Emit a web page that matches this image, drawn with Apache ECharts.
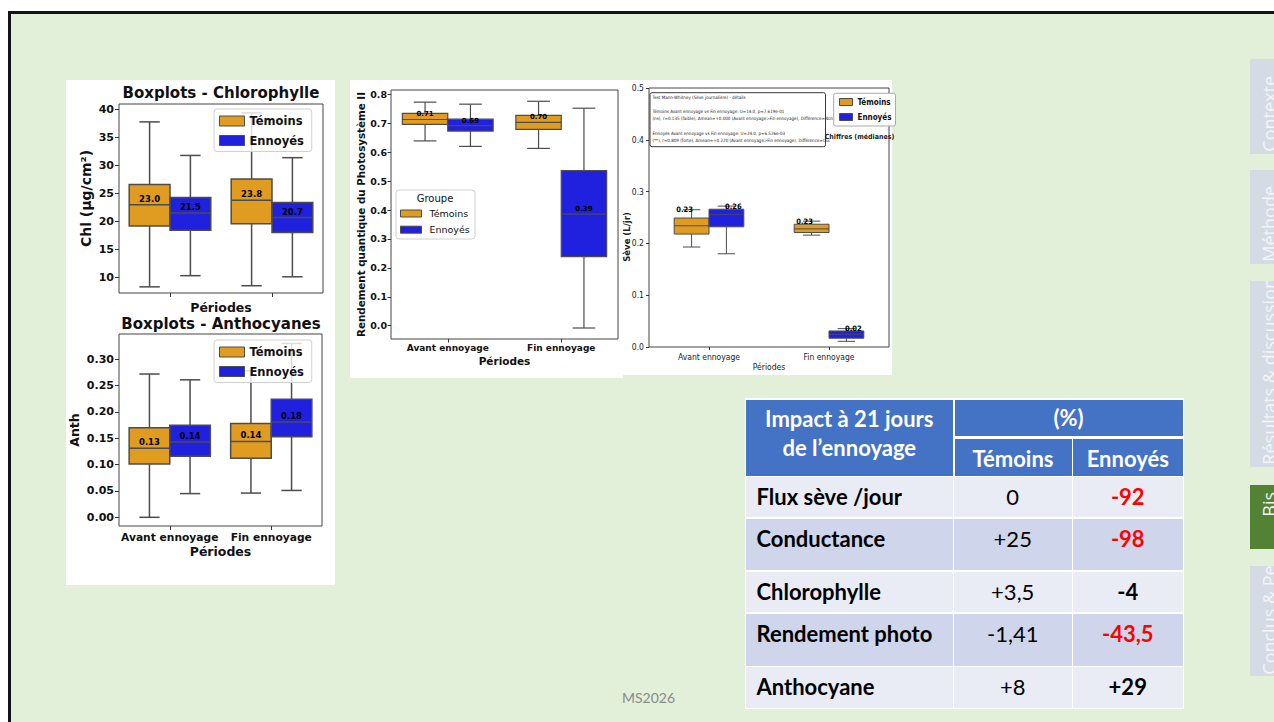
<!DOCTYPE html>
<html lang="fr"><head><meta charset="utf-8"><title>Impact de l'ennoyage</title>
<script src="https://cdn.jsdelivr.net/npm/echarts@6/dist/echarts.min.js"></script>
<style>
html,body{margin:0;padding:0;background:#fff;width:1274px;height:722px;overflow:hidden;}
#slide{position:absolute;left:8px;top:11px;width:1270px;height:715px;background:#E2EFD9;border-left:3px solid #141414;border-top:3px solid #141414;}
.panel{position:absolute;background:#fff;}
#chart{position:absolute;left:0;top:0;width:1274px;height:722px;}
.tab{position:absolute;left:1250px;width:40px;background:#D5DBE4;overflow:hidden;}
.tab span{position:absolute;left:10px;writing-mode:vertical-rl;transform:rotate(180deg);font-family:'Open Sans',sans-serif;font-size:18px;line-height:19px;color:#F2F4F8;white-space:nowrap;}
.tab.on{background:#548235;}
#tbl{position:absolute;left:745px;top:398px;width:439px;height:311px;background:#fff;}
.cell{position:absolute;box-sizing:border-box;font-family:Lato,sans-serif;white-space:nowrap;}
#foot{position:absolute;left:622px;top:688px;font-family:Lato,sans-serif;font-size:14px;line-height:20px;color:#8a8a8a;}
</style></head>
<body>
<div id="slide"></div>
<div class="panel" style="left:66px;top:80px;width:269px;height:505px"></div>
<div class="panel" style="left:350px;top:80px;width:273px;height:298px"></div>
<div class="panel" style="left:623px;top:80px;width:269px;height:295px"></div>
<div id="tabs"></div>
<div id="tbl"></div>
<div id="foot"></div>
<div id="chart"></div>
<script>
// ---------- data ----------
const periods = ['Avant ennoyage', 'Fin ennoyage'];
const groups = ['Témoins', 'Ennoyés'];
// each row: [min, Q1, median, Q3, max] for Avant ennoyage, Fin ennoyage
const chlTemoins = [[8.3, 19.2, 23.0, 26.6, 37.8], [8.5, 19.6, 23.8, 27.6, 39.4]];
const chlEnnoyes = [[10.3, 18.4, 21.5, 24.3, 31.8], [10.1, 18.0, 20.7, 23.4, 31.4]];
const anthTemoins = [[0.0, 0.101, 0.131, 0.170, 0.272], [0.046, 0.112, 0.144, 0.178, 0.278]];
const anthEnnoyes = [[0.045, 0.116, 0.143, 0.175, 0.261], [0.051, 0.153, 0.181, 0.224, 0.330]];
const rendTemoins = [[0.639, 0.696, 0.713, 0.734, 0.773], [0.613, 0.679, 0.703, 0.727, 0.776]];
const rendEnnoyes = [[0.620, 0.673, 0.692, 0.714, 0.766], [-0.008, 0.239, 0.386, 0.536, 0.752]];
const seveTemoins = [[0.193, 0.218, 0.234, 0.249, 0.265], [0.216, 0.221, 0.228, 0.237, 0.243]];
const seveEnnoyes = [[0.180, 0.232, 0.256, 0.266, 0.272], [0.011, 0.017, 0.0245, 0.031, 0.0355]];
const chlTicks = [10, 15, 20, 25, 30, 35, 40];
const anthTicks = [0, 0.05, 0.10, 0.15, 0.20, 0.25, 0.30];
const rendTicks = [0, 0.1, 0.2, 0.3, 0.4, 0.5, 0.6, 0.7, 0.8];
const seveTicks = [0, 0.1, 0.2, 0.3, 0.4, 0.5];
const chlTitle = 'Boxplots - Chlorophylle';
const anthTitle = 'Boxplots - Anthocyanes';
const seveTestLines = [
  'Test Mann-Whitney (Sève journalière) - détails', '',
  'Témoins Avant ennoyage vs Fin ennoyage: U=14.0, p=7.619e-01',
  '(ns), r=0.135 (faible), Δmean=+0.000 (Avant ennoyage>Fin ennoyage), Différence=Non', '',
  'Ennoyés Avant ennoyage vs Fin ennoyage: U=24.0, p=6.526e-03',
  '(**), r=0.809 (forte), Δmean=+0.220 (Avant ennoyage>Fin ennoyage), Différence=Oui'
];
const tableHeader = ['Impact à 21 jours', 'de l’ennoyage'];
const tableUnit = '(%)';
const tableRows = ['Flux sève /jour', 'Conductance', 'Chlorophylle', 'Rendement photo', 'Anthocyane'];
const temoinsPct = ['0', '+25', '+3,5', '-1,41', '+8'];
const ennoyesPct = ['-92', '-98', '-4', '-43,5', '+29'];
const ennoyesSignificant = [true, true, false, true, false];
const tabLabels = ['Contexte', 'Méthode', 'Résultats & discussion', 'Bis', 'Conclus & Perspectives'];
const footerText = 'MS2026';

// ---------- layout / style ----------
const ORANGE = '#E09C20', BLUE = '#2020DF', LINE = '#4c4c4c';
const DV = 'DejaVu Sans';
const NAR = "'Liberation Sans Narrow','DejaVu Sans Condensed',sans-serif";

// slide chrome: tabs
const tabBoxes = [[59, 154, 2], [170, 264, 2], [281, 467, 2], [485, 549, 32], [566, 676, 1]];
const tabsEl = document.getElementById('tabs');
tabLabels.forEach((t, i) => {
  const b = tabBoxes[i];
  const d = document.createElement('div');
  d.className = 'tab' + (t === 'Bis' ? ' on' : '');
  d.style.top = b[0] + 'px'; d.style.height = (b[1] - b[0]) + 'px';
  const s = document.createElement('span');
  s.textContent = t; s.style.bottom = b[2] + 'px';
  d.appendChild(s); tabsEl.appendChild(d);
});
document.getElementById('foot').textContent = footerText;

// table
const tbl = document.getElementById('tbl');
const OX = 745, OY = 398;
function cell(x0, y0, x1, y1, bg, html, css) {
  const d = document.createElement('div');
  d.className = 'cell';
  Object.assign(d.style, {left: (x0 - OX) + 'px', top: (y0 - OY) + 'px', width: (x1 - x0) + 'px', height: (y1 - y0) + 'px', background: bg}, css || {});
  d.innerHTML = html;
  tbl.appendChild(d);
}
const HB = '#4472C4';
const HF = '22px';
cell(746, 400, 952.5, 475.5, HB, tableHeader.join('<br>'), {color: '#fff', fontWeight: 'bold', fontSize: HF, lineHeight: '29.3px', textAlign: 'center', paddingTop: '4px'});
cell(954.5, 400, 1182.5, 436, HB, tableUnit, {color: '#fff', fontWeight: 'bold', fontSize: HF, lineHeight: '36px', textAlign: 'center'});
cell(954.5, 438.5, 1071.5, 475.5, HB, groups[0], {color: '#fff', fontWeight: 'bold', fontSize: HF, lineHeight: '39px', textAlign: 'center'});
cell(1073, 438.5, 1182.5, 475.5, HB, groups[1], {color: '#fff', fontWeight: 'bold', fontSize: HF, lineHeight: '39px', textAlign: 'center'});
const bodyRowsY = [[476.5, 517], [518.5, 570], [571.5, 612], [613.5, 665.5], [667, 708]];
const bodyColsX = [[746, 952.5], [954, 1071.5], [1073, 1182.5]];
tableRows.forEach((r, i) => {
  const [y0, y1] = bodyRowsY[i];
  const bg = i % 2 === 0 ? '#E9EBF5' : '#CFD5EA';
  const base = {fontSize: '22px', lineHeight: '40px', color: '#000'};
  cell(bodyColsX[0][0], y0, bodyColsX[0][1], y1, bg, r, Object.assign({}, base, {fontWeight: 'bold', paddingLeft: '10.5px'}));
  cell(bodyColsX[1][0], y0, bodyColsX[1][1], y1, bg, temoinsPct[i], Object.assign({}, base, {textAlign: 'center'}));
  cell(bodyColsX[2][0], y0, bodyColsX[2][1], y1, bg, ennoyesPct[i], Object.assign({}, base, {textAlign: 'center', fontWeight: 'bold', color: ennoyesSignificant[i] ? '#FF0000' : '#000'}));
});

// ---------- charts ----------
function boxSeries(gi, name, color, rows, side, wFrac, cfg) {
  return {
    type: 'custom', name: name, xAxisIndex: gi, yAxisIndex: gi, z: 2,
    itemStyle: {color: color},
    encode: {x: 0, y: [1, 2, 3, 4, 5]},
    data: rows.map((r, i) => [i].concat(r)),
    renderItem: function (params, api) {
      const cat = api.value(0);
      const band = api.size([1, 0])[0];
      const w = band * wFrac;
      const cx = api.coord([cat, api.value(3)])[0] + side * w / 2;
      const Y = k => api.coord([cat, api.value(k)])[1];
      const yMin = Y(1), yQ1 = Y(2), yMed = Y(3), yQ3 = Y(4), yMax = Y(5);
      const ls = {stroke: LINE, lineWidth: cfg.lw};
      const atMax = cfg.labelAtMax;
      return {
        type: 'group', children: [
          {type: 'line', shape: {x1: cx, y1: yQ1, x2: cx, y2: yMin}, style: ls},
          {type: 'line', shape: {x1: cx, y1: yQ3, x2: cx, y2: yMax}, style: ls},
          {type: 'line', shape: {x1: cx - w / 4, y1: yMin, x2: cx + w / 4, y2: yMin}, style: ls},
          {type: 'line', shape: {x1: cx - w / 4, y1: yMax, x2: cx + w / 4, y2: yMax}, style: ls},
          {type: 'rect', shape: {x: cx - w / 2, y: yQ3, width: w, height: yQ1 - yQ3}, style: {fill: color, stroke: LINE, lineWidth: cfg.lw}},
          {type: 'line', shape: {x1: cx - w / 2, y1: yMed, x2: cx + w / 2, y2: yMed}, style: ls},
          {type: 'text', x: cx + (atMax ? side * 7 : 0), y: atMax ? yMax : yMed - 1.5,
            style: {text: api.value(3).toFixed(cfg.dec), fill: '#000', fontFamily: cfg.ff, fontWeight: 'bold', fontSize: cfg.fs,
              align: 'center', verticalAlign: atMax ? 'middle' : 'bottom'}}
        ]
      };
    }
  };
}

function xAx(gi, showLabel, lab, name) {
  return {
    gridIndex: gi, type: 'category', data: periods, position: 'bottom',
    axisLine: {show: false, onZero: false}, splitLine: {show: false},
    axisTick: {show: true, interval: 0, alignWithLabel: true, length: lab.tick, lineStyle: {color: '#333'}},
    axisLabel: {show: showLabel, interval: 0, hideOverlap: false, margin: lab.margin, fontFamily: lab.ff, fontWeight: lab.fw, fontSize: lab.fs, color: lab.color || '#111'},
    name: 'Périodes', nameLocation: 'middle', nameGap: name.gap,
    nameTextStyle: {fontFamily: name.ff, fontWeight: name.fw, fontSize: name.fs, color: name.color || '#111'}
  };
}
function yAx(gi, min, max, ticks, dec, lab, name) {
  return {
    gridIndex: gi, type: 'value', min: min, max: max, position: 'left',
    axisLine: {show: false, onZero: false}, splitLine: {show: false},
    axisTick: {show: true, length: lab.tick, customValues: ticks, lineStyle: {color: '#333'}},
    axisLabel: {customValues: ticks, margin: lab.margin, formatter: v => Number(v).toFixed(dec),
      fontFamily: lab.ff, fontWeight: lab.fw, fontSize: lab.fs, color: lab.color || '#111'},
    name: name ? name.text : '', nameLocation: 'middle', nameGap: name ? name.gap : 0,
    nameTextStyle: name ? {fontFamily: name.ff, fontWeight: 'bold', fontSize: name.fs, color: '#111'} : {}
  };
}
function legendCfg(left, top, fs, ff, fw, iw, ih, gap, pad, extra) {
  return Object.assign({
    left: left, top: top, orient: 'vertical', selectedMode: false,
    itemWidth: iw, itemHeight: ih, itemGap: gap, padding: pad,
    textStyle: {fontFamily: ff, fontWeight: fw, fontSize: fs, color: '#111'},
    data: [
      {name: groups[0], icon: 'rect', itemStyle: {color: ORANGE, borderColor: LINE, borderWidth: 1}},
      {name: groups[1], icon: 'rect', itemStyle: {color: BLUE, borderColor: LINE, borderWidth: 1}}
    ]
  }, extra);
}

const gridBase = {show: true, backgroundColor: '#fff', borderWidth: 1, containLabel: false};
const bigLab = {ff: DV, fw: 'bold', fs: 11, tick: 4, margin: 5};
const rendLab = {ff: DV, fw: 'bold', fs: 9.5, tick: 3.5, margin: 4};
const seveLab = {ff: NAR, fw: 'normal', fs: 8.5, tick: 3, margin: 5, color: '#222'};

const chlCfg = {lw: 1.5, dec: 1, ff: DV, fs: 8.5};
const rendCfg = {lw: 1.2, dec: 2, ff: DV, fs: 7};
const seveCfg = {lw: 1, dec: 2, ff: NAR, fs: 7.5, labelAtMax: true};

const graphics = [];
graphics.push({type: 'text', x: 221, y: 93, z: 100, style: {text: chlTitle, fontFamily: DV, fontWeight: 'bold', fontSize: 15, fill: '#111', align: 'center', verticalAlign: 'middle'}});
graphics.push({type: 'text', x: 221, y: 324, z: 100, style: {text: anthTitle, fontFamily: DV, fontWeight: 'bold', fontSize: 15, fill: '#111', align: 'center', verticalAlign: 'middle'}});
// Rendement legend frame + title
graphics.push({type: 'rect', shape: {x: 396, y: 190, width: 79, height: 49, r: 3}, z: 100, style: {fill: 'rgba(255,255,255,0.9)', stroke: '#cfcfcf', lineWidth: 1}});
graphics.push({type: 'text', x: 435, y: 198.5, z: 101, style: {text: 'Groupe', fontFamily: DV, fontSize: 10, fill: '#111', align: 'center', verticalAlign: 'middle'}});
// Sève test box
graphics.push({type: 'rect', shape: {x: 650, y: 92.7, width: 175.5, height: 54, r: 2}, z: 100, style: {fill: '#fff', stroke: '#3a3a3a', lineWidth: 1}});
seveTestLines.forEach((t, i) => {
  if (!t) return;
  graphics.push({type: 'text', x: 652.5, y: 97.3 + i * 7.23, z: 101, style: {text: t, fontFamily: NAR, fontSize: 4.5, fill: '#222', align: 'left', verticalAlign: 'middle'}});
});
graphics.push({type: 'text', x: 859.5, y: 137.3, z: 101, style: {text: 'Chiffres (médianes)', fontFamily: NAR, fontWeight: 'bold', fontSize: 7, fill: '#222', align: 'center', verticalAlign: 'middle'}});
graphics.push({type: 'text', x: 627, y: 237, rotation: Math.PI / 2, z: 101, style: {text: 'Sève (L/jr)', fontFamily: DV, fontWeight: 'bold', fontSize: 8.5, fill: '#222', align: 'center', verticalAlign: 'middle'}});

const option = {
  animation: false,
  backgroundColor: 'transparent',
  grid: [
    Object.assign({left: 119, top: 104, width: 204, height: 189, borderColor: '#444'}, gridBase),
    Object.assign({left: 119, top: 334, width: 203, height: 192, borderColor: '#444'}, gridBase),
    Object.assign({left: 391, top: 90, width: 227, height: 249, borderColor: '#444'}, gridBase),
    Object.assign({left: 649, top: 88, width: 240, height: 259, borderColor: '#444'}, gridBase)
  ],
  xAxis: [
    xAx(0, false, bigLab, {gap: 8, ff: DV, fw: 'bold', fs: 12.5}),
    xAx(1, true, Object.assign({}, bigLab, {fs: 10.7, margin: 6}), {gap: 19, ff: DV, fw: 'bold', fs: 12.5}),
    xAx(2, true, Object.assign({}, rendLab, {fs: 9}), {gap: 16, ff: DV, fw: 'bold', fs: 10.5}),
    xAx(3, true, seveLab, {gap: 15, ff: NAR, fw: 'normal', fs: 8.5, color: '#222'})
  ],
  yAxis: [
    yAx(0, 7.2, 41.0, chlTicks, 0, bigLab, {text: 'Chl (µg/cm²)', gap: 26, ff: DV, fs: 14}),
    yAx(1, -0.0165, 0.348, anthTicks, 2, bigLab, {text: 'Anth', gap: 38, ff: DV, fs: 12.5}),
    yAx(2, -0.046, 0.815, rendTicks, 1, rendLab, {text: 'Rendement quantique du Photosystème II', gap: 25, ff: DV, fs: 10.3}),
    yAx(3, 0, 0.5, seveTicks, 1, seveLab, null)
  ],
  legend: [
    legendCfg(214, 109, 11.5, DV, 'bold', 25, 10, 7.5, [6, 8, 5, 5], {backgroundColor: 'rgba(255,255,255,0.8)', borderColor: '#d0d0d0', borderWidth: 1, borderRadius: 3, z: 50}),
    legendCfg(214, 340, 11.5, DV, 'bold', 25, 10, 7.5, [6, 8, 5, 5], {backgroundColor: 'rgba(255,255,255,0.8)', borderColor: '#d0d0d0', borderWidth: 1, borderRadius: 3, z: 50}),
    legendCfg(400, 208.5, 9.5, DV, 'normal', 21, 7, 6.2, 0, {z: 300, textStyle: {fontFamily: DV, fontSize: 9.5, color: '#111', padding: [0, 0, 0, 3]}}),
    legendCfg(833.7, 93.3, 8, NAR, 'bold', 13, 7, 7, [4.7, 4, 5, 5.3], {backgroundColor: '#fff', borderColor: '#aaa', borderWidth: 1, borderRadius: 2, z: 300})
  ],
  graphic: graphics,
  series: [
    boxSeries(0, groups[0], ORANGE, chlTemoins, -1, 0.4, chlCfg),
    boxSeries(0, groups[1], BLUE, chlEnnoyes, 1, 0.4, chlCfg),
    boxSeries(1, groups[0], ORANGE, anthTemoins, -1, 0.4, Object.assign({}, chlCfg, {dec: 2})),
    boxSeries(1, groups[1], BLUE, anthEnnoyes, 1, 0.4, Object.assign({}, chlCfg, {dec: 2})),
    boxSeries(2, groups[0], ORANGE, rendTemoins, -1, 0.4, rendCfg),
    boxSeries(2, groups[1], BLUE, rendEnnoyes, 1, 0.4, rendCfg),
    boxSeries(3, groups[0], ORANGE, seveTemoins, -1, 0.29, seveCfg),
    boxSeries(3, groups[1], BLUE, seveEnnoyes, 1, 0.29, seveCfg)
  ]
};
const chart = echarts.init(document.getElementById('chart'), null, {renderer: 'svg', width: 1274, height: 722});
chart.setOption(option);
</script>
</body></html>
